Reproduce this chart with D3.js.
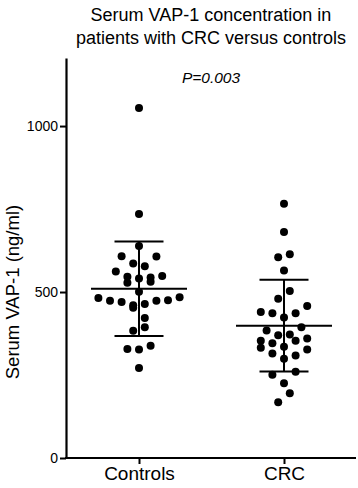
<!DOCTYPE html>
<html>
<head>
<meta charset="utf-8">
<script src="https://cdn.jsdelivr.net/npm/d3@7"></script>
<style>
	body { margin: 0; background: #fff; }
	svg text { font-family: "Liberation Sans", Arial, Helvetica, sans-serif; fill: #000; }
</style>
</head>
<body>
<div id="chart"></div>
<script>

// groups and values (ng/ml)
const groups = ['Controls', 'CRC']
const controls = [1054, 735, 639, 608, 607, 586, 578, 562, 546, 541, 544, 548, 528, 531, 501,
	482, 474, 470, 460, 453, 464, 474, 475, 484, 422, 394, 383, 328, 327, 338, 271]
const crc = [766, 681, 605, 614, 565, 503, 480, 440, 436, 423, 436, 458, 394, 384, 370, 372,
	353, 346, 353, 360, 332, 335, 315, 309, 327, 299, 251, 260, 225, 195, 168]
// scatter column of every dot (half-dot steps from the group centre)
const controlsCol = [0, 0, 0, -3, 3, -1, 1, -4, -2, 0, 2, 4, -2, 2, 0,
	-7, -5, -3, -1, -1, 1, 3, 5, 7, 1, 1, -1, -2, 0, 2, 0]
const crcCol = [0, 0, -1, 1, 0, 1, -1, -4, -2, 0, 2, 4, 3, -3, -1, 1,
	-4, -2, 2, 4, -4, 0, -2, 2, 4, 0, -2, 2, 0, 1, -1]
const yTicks = [0, 500, 1000]
const pLabel = 'P=0.003'
const titleLines = ['Serum VAP-1 concentration in', 'patients with CRC versus controls']

const width = 358, height = 488
const font = '"Liberation Sans", Arial, Helvetica, sans-serif'

const svg = d3.select('#chart').append('svg')
	.attr('width', width)
	.attr('height', height)

// scales
const y = d3.scaleLinear()
	.domain([0, 1205])
	.range([458, 58])

const x = d3.scalePoint()
	.domain(groups)
	.range([139, 284])

const step = 5.8

// axes
svg.append('g')
	.attr('transform', 'translate(66,0)')
	.call(d3.axisLeft(y).tickValues(yTicks).tickFormat(d3.format('d'))
		.tickSize(6).tickSizeOuter(0).tickPadding(2))
	.call(g => g.select('.domain').attr('stroke-width', 2.2))
	.call(g => g.selectAll('.tick line').attr('stroke-width', 2))
	.call(g => g.selectAll('.tick text').style('font-size', '14px').style('font-family', font))

const xAxis = d3.axisBottom(x)
	.tickSize(6).tickSizeOuter(0).tickPadding(3)

svg.append('g')
	.attr('transform', 'translate(0,' + y(0) + ')')
	.call(xAxis)
	.call(g => g.select('.domain').attr('d', 'M65,0H356').attr('stroke-width', 2.2))
	.call(g => g.selectAll('.tick line').attr('stroke-width', 2))
	.call(g => g.selectAll('.tick text').style('font-size', '19px').style('font-family', font))

// dots + mean/SD bars
const sets = [
	{name: 'Controls', vals: controls, cols: controlsCol},
	{name: 'CRC', vals: crc, cols: crcCol}
]

sets.forEach(s => {
	const cx = x(s.name)
	const m = d3.mean(s.vals)
	const sd = d3.deviation(s.vals)

	const g = svg.append('g')
	g.selectAll('circle')
		.data(s.vals)
		.enter()
	.append('circle')
		.attr('cx', (d, i) => cx + s.cols[i] * step)
		.attr('cy', d => y(d))
		.attr('r', 4)
		.attr('fill', '#000')

	g.append('path')
		.attr('d', `M${cx - 48},${y(m)}H${cx + 48}
			M${cx - 24.5},${y(m + sd)}H${cx + 24.5}
			M${cx - 24.5},${y(m - sd)}H${cx + 24.5}
			M${cx},${y(m + sd)}V${y(m - sd)}`)
		.attr('stroke', '#000')
		.attr('stroke-width', 2)
		.attr('fill', 'none')
})

// labels
svg.append('text')
	.attr('transform', 'rotate(-90)')
	.attr('text-anchor', 'middle')
	.attr('x', -y(500))
	.attr('y', 19)
	.style('font-size', '18.5px')
	.text('Serum VAP-1 (ng/ml)')

svg.append('text')
	.attr('text-anchor', 'middle')
	.attr('x', 211)
	.attr('y', 83)
	.style('font-size', '15.5px')
	.style('font-style', 'italic')
	.text(pLabel)

svg.selectAll('.title')
	.data(titleLines)
	.enter()
.append('text')
	.attr('class', 'title')
	.attr('text-anchor', 'middle')
	.attr('x', 211)
	.attr('y', (d, i) => 21 + i * 23)
	.style('font-size', '18px')
	.text(d => d)

</script>
</body>
</html>
